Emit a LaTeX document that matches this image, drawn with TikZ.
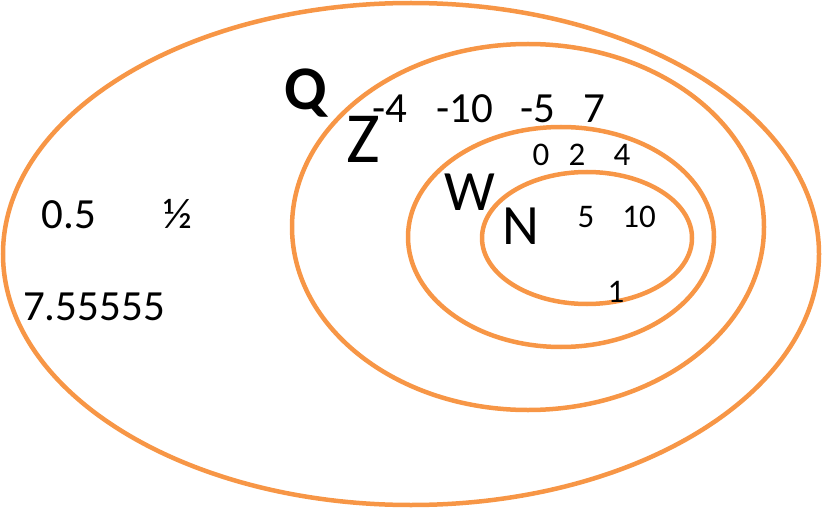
\documentclass[tikz,border=0pt]{standalone}
\usepackage{fontspec}
\setmainfont{Carlito}
\definecolor{setorange}{HTML}{F79646}

\begin{document}
\begin{tikzpicture}[x=1pt, y=-1pt,
  setline/.style={draw=setorange, line width=4.5pt},
  num/.style={anchor=base, inner sep=0pt, font=\fontsize{43}{46}\selectfont},
  small/.style={anchor=base, inner sep=0pt, font=\fontsize{33}{36}\selectfont},
  setname/.style={anchor=base, inner sep=0pt, font=\fontsize{57}{60}\selectfont}
]
\useasboundingbox (0,0) rectangle (822,508);
% Q (rationals)
\draw[setline] (411,254) ellipse [x radius=408, y radius=251];
\node[setname, font=\fontsize{62}{66}\selectfont\bfseries] (q) at (306,110) {Q};
\node[num] (half) at (69,228) {0.5};
\node[num] (frac) at (178,228) {½};
\node[num] (dec) at (94,320) {7.55555};
% Z (integers)
\draw[setline] (528,227) ellipse [x radius=236, y radius=183];
\node[setname, font=\fontsize{72}{76}\selectfont] (z) at (363,163) {Z};
\node[num] (m4) at (390,123) {-4};
\node[num] (m10) at (465,123) {-10};
\node[num] (m5) at (538,123) {-5};
\node[num] (p7) at (594,123) {7};
% W (whole numbers)
\draw[setline] (561,237) ellipse [x radius=153, y radius=110];
\node[setname] (w) at (470,210) {W};
\node[small] (n0) at (541,165) {0};
\node[small] (n2) at (577,165) {2};
\node[small] (n4) at (622,165) {4};
% N (naturals)
\draw[setline] (587,238) ellipse [x radius=105, y radius=66];
\node[setname] (n) at (521,244) {N};
\node[small] (n5) at (586,227) {5};
\node[small] (n10) at (639,227) {10};
\node[small] (n1) at (616,302) {1};
\end{tikzpicture}
\end{document}
